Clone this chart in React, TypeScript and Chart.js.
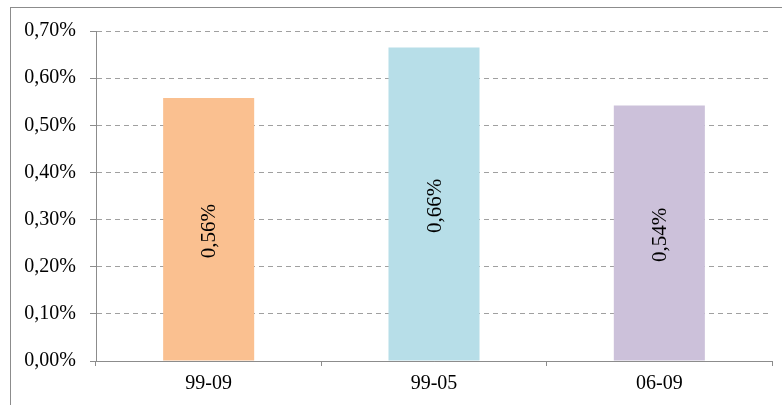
import React, { useEffect, useRef } from "react";
import { Chart, registerables } from "chart.js";

Chart.register(...registerables);

const categories = ["99-09", "99-05", "06-09"];
const values = [0.558, 0.665, 0.542];
const valueLabels = ["0,56%", "0,66%", "0,54%"];
const barColors = ["#FAC090", "#B7DEE8", "#CCC1DA"];
const yTicks = [0, 0.1, 0.2, 0.3, 0.4, 0.5, 0.6, 0.7];

const FONT = "'Liberation Serif', 'Times New Roman', serif";

const frame = {
  id: "frame",
  beforeDraw(chart: any) {
    const ctx = chart.ctx;
    ctx.save();
    ctx.fillStyle = "#ffffff";
    ctx.fillRect(0, 0, chart.width, chart.height);
    ctx.strokeStyle = "#8c8c8c";
    ctx.lineWidth = 1;
    ctx.strokeRect(10.5, 7.5, chart.width + 20, chart.height + 20);
    ctx.restore();
  },
};

const barLabels = {
  id: "barLabels",
  afterDatasetsDraw(chart: any) {
    const ctx = chart.ctx;
    const meta = chart.getDatasetMeta(0);
    ctx.save();
    ctx.fillStyle = "#000000";
    ctx.font = `21px ${FONT}`;
    ctx.textAlign = "center";
    ctx.textBaseline = "middle";
    meta.data.forEach((bar: any, i: number) => {
      const cx = bar.x;
      const cy = (bar.y + bar.base) / 2;
      ctx.save();
      ctx.translate(cx, cy);
      ctx.rotate(-Math.PI / 2);
      ctx.fillText(valueLabels[i], -2, 1);
      ctx.restore();
    });
    ctx.restore();
  },
};

export default function App() {
  const ref = useRef<HTMLCanvasElement>(null);
  useEffect(() => {
    if (!ref.current) return;
    const chart = new Chart(ref.current, {
      type: "bar",
      data: {
        labels: categories,
        datasets: [
          {
            data: values,
            backgroundColor: barColors,
            borderWidth: 0,
            barPercentage: 0.404,
            categoryPercentage: 1,
          },
        ],
      },
      options: {
        animation: false,
        responsive: false,
        maintainAspectRatio: false,
        layout: { padding: { left: 0, right: 10, top: 31, bottom: 0 } },
        plugins: { legend: { display: false }, tooltip: { enabled: false } },
        scales: {
          x: {
            offset: true,
            grid: {
              offset: true,
              drawOnChartArea: false,
              color: "#8c8c8c",
              tickLength: 5,
            },
            border: { color: "#8c8c8c" },
            ticks: { color: "#000", font: { family: FONT, size: 20 }, padding: 6 },
            afterFit(scale: any) {
              scale.height = 44;
            },
          },
          y: {
            min: 0,
            max: 0.7,
            afterBuildTicks(scale: any) {
              scale.ticks = yTicks.map((v) => ({ value: v }));
            },
            grid: {
              color: "#a0a0a0",
              tickLength: 6,
              tickColor: "#8c8c8c",
              tickBorderDash: [0, 0],
            },
            border: { color: "#8c8c8c", dash: [5, 4] },
            ticks: {
              color: "#000",
              font: { family: FONT, size: 20 },
              padding: 14,
              callback: (v: any) => Number(v).toFixed(2).replace(".", ",") + "%",
            },
            afterFit(scale: any) {
              scale.width = 96;
            },
          },
        },
      },
      plugins: [frame, barLabels],
    });
    return () => chart.destroy();
  }, []);
  return (
    <div style={{ position: "fixed", left: 0, top: 0, width: 782, height: 405 }}>
      <canvas ref={ref} width={782} height={405} style={{ width: 782, height: 405 }} />
    </div>
  );
}
